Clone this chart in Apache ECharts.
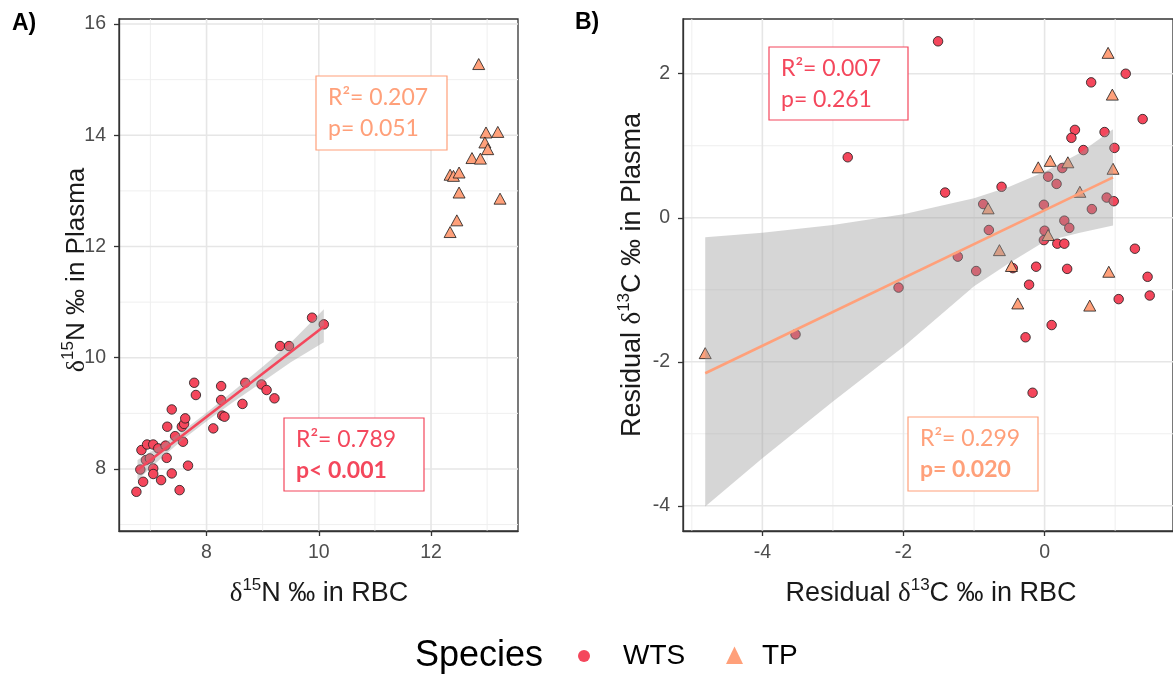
<!DOCTYPE html>
<html><head><meta charset="utf-8">
<script src="https://cdn.jsdelivr.net/npm/echarts@6/dist/echarts.min.js"></script>
<style>html,body{margin:0;padding:0;background:#fff}#c{width:1173px;height:675px}</style>
</head><body><div id="c"></div>
<script>
// ---------- DATA ----------
// Panel A: d15N plasma vs RBC
const wtsA_x = [6.75,6.87,6.82,6.84,6.94,7.05,6.92,6.99,7.05,7.05,7.19,7.14,7.27,7.29,7.30,7.38,7.38,7.44,7.52,7.56,7.60,7.62,7.58,7.67,7.78,7.81,8.12,8.26,8.26,8.28,8.32,8.64,8.69,8.98,9.07,9.21,9.31,9.47,9.88,10.09];
const wtsA_y = [7.59,7.77,7.99,8.34,8.44,8.44,8.16,8.19,8.01,7.91,7.80,8.37,8.42,8.20,8.76,9.07,7.92,8.59,7.62,8.76,8.81,8.91,8.49,8.06,9.55,9.33,8.73,9.49,9.24,8.96,8.94,9.17,9.55,9.52,9.42,9.27,10.21,10.21,10.72,10.60];
const tpA_x = [12.85,12.98,13.19,12.96,13.01,12.73,12.88,12.34,12.40,12.50,12.50,13.23,12.46,12.34];
const tpA_y = [15.28,14.05,14.06,13.87,13.75,13.59,13.58,13.29,13.27,13.33,12.97,12.86,12.47,12.26];
const fitA_x = [6.77,10.09];
const fitA_y = [7.98,10.56];
const bandA_x  = [6.77,7.2,7.6,8.0,8.5,9.0,9.5,10.09];
const bandA_lo = [7.80,8.20,8.55,8.86,9.22,9.57,9.92,10.28];
const bandA_hi = [8.16,8.43,8.70,9.01,9.42,9.84,10.27,10.87];

// Panel B: residual d13C plasma vs RBC
const wtsB_x = [-1.51,-2.79,-1.41,-0.61,0.66,1.15,1.39,0.43,0.38,0.85,0.55,0.99,0.25,0.05,0.17,-0.87,-0.01,0.67,0.88,0.98,-0.79,0.28,0.35,0.00,-0.01,0.18,0.28,-1.23,-0.97,-0.45,-0.12,0.32,1.28,1.46,-2.07,-3.53,-0.22,0.10,-0.27,-0.17,1.05,1.49];
const wtsB_y = [2.45,0.84,0.35,0.43,1.88,2.00,1.37,1.22,1.11,1.19,0.94,0.97,0.69,0.57,0.47,0.19,0.18,0.12,0.28,0.23,-0.17,-0.04,-0.14,-0.18,-0.31,-0.36,-0.36,-0.54,-0.74,-0.70,-0.68,-0.71,-0.43,-0.82,-0.97,-1.62,-0.93,-1.49,-1.66,-2.43,-1.13,-1.08];
const tpB_x = [0.90,0.96,-0.09,0.08,0.33,0.97,0.50,-0.80,0.05,-0.64,-0.47,0.91,-4.81,-0.38,0.64];
const tpB_y = [2.29,1.71,0.70,0.79,0.77,0.68,0.36,0.13,-0.24,-0.45,-0.67,-0.75,-1.88,-1.19,-1.22];
const fitB_x = [-4.81,0.97];
const fitB_y = [-2.16,0.56];
const bandB_x  = [-4.81,-4,-3,-2,-1,-0.5,0,0.5,0.97];
const bandB_lo = [-4.01,-3.34,-2.55,-1.79,-0.95,-0.63,-0.33,-0.21,-0.107];
const bandB_hi = [-0.27,-0.21,-0.10,0.05,0.27,0.43,0.64,0.90,1.23];

// Ticks / gridlines
const ticksA_x = [8,10,12];        const minorA_x = [7,9,11,13];
const ticksA_y = [8,10,12,14,16];  const minorA_y = [7,9,11,13,15];
const ticksB_x = [-4,-2,0];        const minorB_x = [-5,-3,-1,1];
const ticksB_y = [-4,-2,0,2];      const minorB_y = [-3,-1,1];
const rangeA_x = [6.44,13.55];     const rangeA_y = [6.885,16.09];
const rangeB_x = [-5.125,1.82];    const rangeB_y = [-4.35,2.76];

// ---------- STYLE ----------
const FONT = "'Liberation Sans', Arial, sans-serif";
const AFONT = "Lato, 'Open Sans', sans-serif";
const RED = '#F4475C', ORANGE = '#FFA07A';
const GRID_MAJ = '#e6e6e6', GRID_MIN = '#efefef';

function zip(a,b){ return a.map((v,i)=>[v,b[i]]); }

function vLines(gi, vals, yRef, w, col){
  return {type:'custom', xAxisIndex:gi, yAxisIndex:gi, z:0, silent:true, animation:false,
    data: vals.map(v=>[v,yRef]), encode:{x:0,y:1},
    renderItem:(p,api)=>{ const c=api.coord([api.value(0),api.value(1)]); const cs=p.coordSys;
      return {type:'line', shape:{x1:c[0],y1:cs.y,x2:c[0],y2:cs.y+cs.height}, style:{stroke:col,lineWidth:w}}; }};
}
function hLines(gi, vals, xRef, w, col){
  return {type:'custom', xAxisIndex:gi, yAxisIndex:gi, z:0, silent:true, animation:false,
    data: vals.map(v=>[xRef,v]), encode:{x:0,y:1},
    renderItem:(p,api)=>{ const c=api.coord([api.value(0),api.value(1)]); const cs=p.coordSys;
      return {type:'line', shape:{x1:cs.x,y1:c[1],x2:cs.x+cs.width,y2:c[1]}, style:{stroke:col,lineWidth:w}}; }};
}
function band(gi, xs, lo, hi){
  return {type:'custom', xAxisIndex:gi, yAxisIndex:gi, z:3, silent:true, animation:false,
    data: xs.map((x,i)=>[x,lo[i],hi[i]]), encode:{x:0,y:1},
    renderItem:(p,api)=>{
      if (p.dataIndex !== 0) return null;
      const pts=[];
      for (let i=0;i<xs.length;i++) pts.push(api.coord([xs[i],hi[i]]));
      for (let i=xs.length-1;i>=0;i--) pts.push(api.coord([xs[i],lo[i]]));
      return {type:'polygon', shape:{points:pts}, style:{fill:'rgba(153,153,153,0.4)'}};
    }};
}
function pts(gi, name, xs, ys, isTri){
  return {type:'scatter', name, xAxisIndex:gi, yAxisIndex:gi, z:2, silent:true,
    symbol: isTri ? 'triangle' : 'circle', symbolSize: isTri ? [12,11] : 9.5,
    itemStyle:{color: isTri ? ORANGE : RED, borderColor:'#1a1a1a', borderWidth:0.8, opacity:1},
    data: zip(xs, ys)};
}
function fit(gi, xs, ys, col){
  return {type:'line', xAxisIndex:gi, yAxisIndex:gi, z:4, silent:true, showSymbol:false,
    lineStyle:{color:col, width:2.6}, data: zip(xs, ys)};
}
function axis(gi, range, ticks, margin){
  return {gridIndex:gi, type:'value', min:range[0], max:range[1], scale:true,
    axisLine:{show:true, onZero:false, lineStyle:{color:'#333', width:1.3}},
    axisTick:{show:true, customValues:ticks, length:5, lineStyle:{color:'#333', width:1.3}},
    axisLabel:{show:true, customValues:ticks, color:'#4d4d4d', fontSize:19.5, fontFamily:FONT, margin:margin},
    splitLine:{show:false}, minorTick:{show:false}, minorSplitLine:{show:false}};
}
function box(x1,y1,x2,y2,col,l1,l2,bold2){
  return [
    {type:'rect', shape:{x:x1,y:y1,width:x2-x1,height:y2-y1}, style:{fill:'#fff', stroke:col, lineWidth:1.2}, z:50},
    {type:'text', x:x1+12, y:y1+22, z:51, style:{text:l1, fill:col, font:'23px '+AFONT, verticalAlign:'middle', align:'left'}},
    {type:'text', x:x1+12, y:y1+53, z:51, style:{text:l2, fill:col, font:(bold2?'bold ':'')+'23px '+AFONT, verticalAlign:'middle', align:'left'}}
  ];
}
function title(x, y, rot, pre, sup, post, fs){
  return {type:'text', x, y, rotation: rot, z:50, style:{
    text:'{a|'+pre+'}{d|δ}{s|'+sup+'}{a|'+post+'}', align:'center', verticalAlign:'middle',
    rich:{
      a:{fontSize:fs, fontFamily:FONT, fill:'#1a1a1a', lineHeight:30, verticalAlign:'bottom'},
      d:{fontSize:fs, fontFamily:"'Liberation Serif', serif", fill:'#1a1a1a', lineHeight:30, verticalAlign:'bottom'},
      s:{fontSize:Math.round(fs*0.64), fontFamily:FONT, fill:'#1a1a1a', lineHeight:15, verticalAlign:'top'}
    }}};
}

const chart = echarts.init(document.getElementById('c'), null, {renderer:'canvas'});
const graphics = [].concat(
  [{type:'text', x:12, y:24, z:50, style:{text:'A)', font:'bold 23px '+FONT, fill:'#000', verticalAlign:'middle'}},
   {type:'text', x:575, y:23, z:50, style:{text:'B)', font:'bold 23px '+FONT, fill:'#000', verticalAlign:'middle'}}],
  box(316,76,447,150,ORANGE,'R²= 0.207','p= 0.051',false),
  box(284,418,424,491,RED,'R²= 0.789','p< 0.001',true),
  box(769,47,908,120,RED,'R²= 0.007','p= 0.261',false),
  box(908,417,1038,491,ORANGE,'R²= 0.299','p= 0.020',true),
  [title(319,592,0,'','15','N ‰ in RBC',27),
   title(75,270,Math.PI/2,'','15','N ‰ in Plasma',26),
   title(931,592,0,'Residual ','13','C ‰ in RBC',27),
   title(631,275,Math.PI/2,'Residual ','13','C ‰ in Plasma',27),
   {type:'text', x:415, y:656, z:50, style:{text:'Species', font:'36px '+FONT, fill:'#000', verticalAlign:'middle'}},
   {type:'circle', z:50, shape:{cx:584, cy:656, r:6}, style:{fill:RED}},
   {type:'text', x:623, y:656, z:50, style:{text:'WTS', font:'28px '+FONT, fill:'#000', verticalAlign:'middle'}},
   {type:'polygon', z:50, shape:{points:[[734.5,646.5],[726,664],[743,664]]}, style:{fill:ORANGE}},
   {type:'text', x:762, y:656, z:50, style:{text:'TP', font:'28px '+FONT, fill:'#000', verticalAlign:'middle'}}]
);

chart.setOption({
  animation:false,
  backgroundColor:'#fff',
  grid:[
    {left:119, top:19, width:399, height:512, show:true, borderColor:'#333', borderWidth:1.3, backgroundColor:'transparent'},
    {left:683, top:19, width:500, height:512, show:true, borderColor:'#333', borderWidth:1.3, backgroundColor:'transparent'}
  ],
  xAxis:[ axis(0, rangeA_x, ticksA_x, 12), axis(1, rangeB_x, ticksB_x, 12) ],
  yAxis:[ axis(0, rangeA_y, ticksA_y, 13), axis(1, rangeB_y, ticksB_y, 13) ],
  series:[
    vLines(0, minorA_x, 10, 1, GRID_MIN), hLines(0, minorA_y, 10, 1, GRID_MIN),
    vLines(0, ticksA_x, 10, 1.6, GRID_MAJ), hLines(0, ticksA_y, 10, 1.6, GRID_MAJ),
    vLines(1, minorB_x, 0, 1, GRID_MIN), hLines(1, minorB_y, 0, 1, GRID_MIN),
    vLines(1, ticksB_x, 0, 1.6, GRID_MAJ), hLines(1, ticksB_y, 0, 1.6, GRID_MAJ),
    pts(0,'WTS',wtsA_x,wtsA_y,false), pts(0,'TP',tpA_x,tpA_y,true),
    pts(1,'WTS',wtsB_x,wtsB_y,false), pts(1,'TP',tpB_x,tpB_y,true),
    band(0, bandA_x, bandA_lo, bandA_hi), band(1, bandB_x, bandB_lo, bandB_hi),
    fit(0, fitA_x, fitA_y, RED), fit(1, fitB_x, fitB_y, ORANGE)
  ],
  graphic: graphics
});
</script></body></html>
